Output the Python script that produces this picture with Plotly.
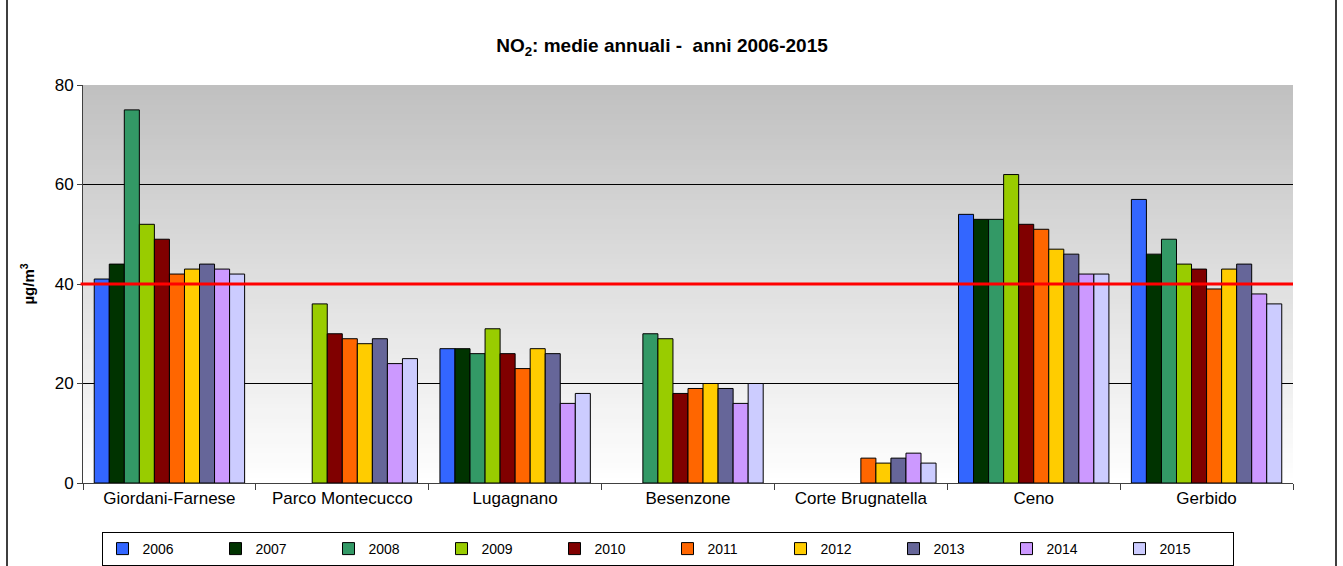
import plotly.graph_objects as go

stations = ["Giordani-Farnese", "Parco Montecucco", "Lugagnano", "Besenzone",
            "Corte Brugnatella", "Ceno", "Gerbido"]
years = ["2006", "2007", "2008", "2009", "2010", "2011", "2012", "2013", "2014", "2015"]
values = {
    "2006": [41, None, 27, None, None, 54, 57],
    "2007": [44, None, 27, None, None, 53, 46],
    "2008": [75, None, 26, 30, None, 53, 49],
    "2009": [52, 36, 31, 29, None, 62, 44],
    "2010": [49, 30, 26, 18, None, 52, 43],
    "2011": [42, 29, 23, 19, 5, 51, 39],
    "2012": [43, 28, 27, 20, 4, 47, 43],
    "2013": [44, 29, 26, 19, 5, 46, 44],
    "2014": [43, 24, 16, 16, 6, 42, 38],
    "2015": [42, 25, 18, 20, 4, 42, 36],
}
colors = ["#3366FF", "#003300", "#339966", "#99CC00", "#800000",
          "#FF6600", "#FFCC00", "#666699", "#CC99FF", "#CCCCFF"]
limit_value = 40
y_ticks = [0, 20, 40, 60, 80]

W, H = 1343, 566
ML, MR, MT, MB = 83, 50, 85, 83
PW = W - ML - MR

fig = go.Figure()
for yr, col in zip(years, colors):
    fig.add_trace(go.Bar(
        name=yr, x=stations, y=values[yr],
        marker=dict(color=col, line=dict(color="black", width=1)),
    ))

# gradient background (overlapping bands to avoid seams)
n = 80
shapes = []
for i in range(n):
    t = (i + 0.5) / n
    c = int(round(255 - (255 - 192) * t))
    shapes.append(dict(type="rect", xref="x domain", yref="y domain",
                       x0=0, x1=1, y0=i / n, y1=min(1.0, (i + 1) / n + 0.006),
                       fillcolor=f"rgb({c},{c},{c})", line=dict(width=0),
                       layer="below"))
# limit line
shapes.append(dict(type="line", xref="x domain", yref="y", x0=-0.002, x1=1,
                   y0=limit_value, y1=limit_value,
                   line=dict(color="#FF0000", width=3), layer="above"))
# outer frame
shapes.append(dict(type="rect", xref="paper", yref="paper",
                   x0=(7 - ML) / PW, x1=(1336 - ML) / PW,
                   y0=-0.5, y1=1.5,
                   line=dict(color="black", width=1.5), fillcolor="rgba(0,0,0,0)"))

fig.update_layout(
    width=W, height=H,
    margin=dict(l=ML, r=MR, t=MT, b=MB),
    paper_bgcolor="white",
    plot_bgcolor="white",
    font=dict(family="Liberation Sans, Arial, sans-serif", size=14, color="black"),
    title=dict(text="<b>NO<sub>2</sub>: medie annuali -&nbsp; anni 2006-2015</b>",
               x=662 / W, xref="container", xanchor="center",
               y=1 - 45 / H, yanchor="middle",
               font=dict(size=19, color="black")),
    barmode="group", bargap=0.13, bargroupgap=0,
    shapes=shapes,
    showlegend=True,
    legend=dict(orientation="h", x=667.5 / W, xref="container", xanchor="center",
                y=1 - 549 / H, yref="container", yanchor="middle",
                bordercolor="black", borderwidth=1,
                entrywidth=68, entrywidthmode="pixels",
                font=dict(size=14), traceorder="normal"),
)
fig.update_xaxes(showline=True, linecolor="#404040", linewidth=1,
                 ticks="outside", tickson="boundaries", ticklen=6, tickcolor="#404040",
                 showgrid=False, tickfont=dict(size=17))
fig.update_yaxes(range=[0, 80], tickvals=y_ticks, showline=True,
                 linecolor="#404040", linewidth=1, ticks="outside", ticklen=5,
                 tickcolor="#404040", showgrid=True, gridcolor="black", gridwidth=1,
                 zeroline=False, tickfont=dict(size=17),
                 title=dict(text="<b>µg/m<sup>3</sup></b>", font=dict(size=15), standoff=16))

fig.write_html("out.html",
               config={"displayModeBar": False},
               post_script="document.body.style.margin='0px';"
                           "document.body.style.overflow='hidden';")
